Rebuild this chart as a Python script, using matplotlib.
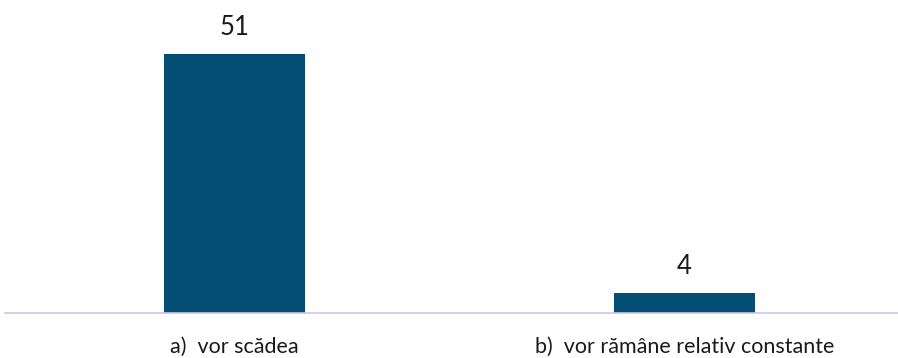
import matplotlib.pyplot as plt

# data
categories = ['a)  vor scădea', 'b)  vor rămâne relativ constante']
values = [51, 4]

bar_color = '#034E75'
axis_color = '#C9C6EE'

W, H = 898, 358
fig = plt.figure(figsize=(W / 100, H / 100), dpi=100)
plt.rcParams['font.family'] = ['Lato', 'DejaVu Sans']

# axes placed in pixel terms: baseline at y=313 px from top
ax = fig.add_axes([5 / W, 45 / H, 893 / W, 304.8 / H])
x = list(range(len(categories)))
ax.bar(x, values, width=0.313, color=bar_color)
ax.set_xlim(-0.51, 1.474)
ax.set_ylim(0, 60)

for xi, v in zip(x, values):
    ax.annotate(str(v), (xi, v), xytext=(0, 19), textcoords='offset points',
                ha='center', va='center', fontsize=18.5, color='#1a1a1a')

ax.set_xticks(x)
ax.set_xticklabels(categories, fontsize=15.5, color='#1a1a1a')
ax.tick_params(axis='x', length=0, pad=17)
ax.set_yticks([])
for s in ['top', 'right', 'left']:
    ax.spines[s].set_visible(False)
ax.spines['bottom'].set_color(axis_color)
ax.spines['bottom'].set_linewidth(1.2)

fig.savefig('out.png', dpi=100)
